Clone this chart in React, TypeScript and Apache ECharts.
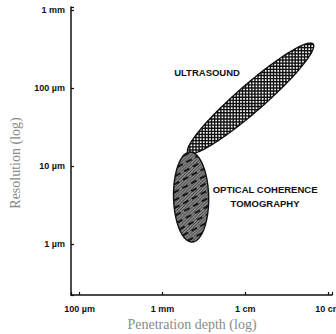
import React, { useEffect, useRef } from "react";
import * as echarts from "echarts";

// Axis ranges and ticks (values in µm)
const penetrationRange = [78.5, 112000];
const penetrationTicks = [100, 1000, 10000, 100000];
const penetrationTickLabels = ["100 µm", "1 mm", "1 cm", "10 cm"];
const resolutionRange = [0.222, 1107];
const resolutionTicks = [1, 10, 100, 1000];
const resolutionTickLabels = ["1 µm", "10 µm", "100 µm", "1 mm"];

// Regions: ellipse tips (penetration µm, resolution µm), half-width in decades
const regionNames = ["ULTRASOUND", "OPTICAL COHERENCE\nTOMOGRAPHY"];
const regionTipLow = [
  [2040, 14.8],
  [2280, 1.064],
];
const regionTipHigh = [
  [66200, 371],
  [2160, 15.2],
];
const regionHalfWidthDecades = [0.163, 0.212];
const regionLabelAt = [
  [3460, 162],
  [17400, 4.14],
];

const axisTitleX = "Penetration depth (log)";
const axisTitleY = "Resolution (log)";

function tickFormatter(ticks: number[], labels: string[]) {
  return (v: number) => {
    for (let i = 0; i < ticks.length; i++) {
      if (Math.abs(Math.log10(v) - Math.log10(ticks[i])) < 1e-6) return labels[i];
    }
    return "";
  };
}

export default function App() {
  const ref = useRef<HTMLDivElement>(null);
  useEffect(() => {
    if (!ref.current) return;
    const chart = echarts.init(ref.current, undefined, { renderer: "svg" });
    const data = regionNames.map((_, i) => [
      regionTipLow[i][0],
      regionTipLow[i][1],
      regionTipHigh[i][0],
      regionTipHigh[i][1],
      regionHalfWidthDecades[i],
      regionLabelAt[i][0],
      regionLabelAt[i][1],
    ]);
    const labelFont = { fontFamily: "Liberation Sans", fontWeight: "bold" as const, fontSize: 9, color: "#111" };

    const renderItem = (params: any, api: any) => {
      const idx = params.dataIndex;
      const p1 = api.coord([api.value(0), api.value(1)]);
      const p2 = api.coord([api.value(2), api.value(3)]);
      const dec = api.coord([1000, 1])[0] - api.coord([100, 1])[0];
      const hw = api.value(4) * dec;
      const cx = (p1[0] + p2[0]) / 2;
      const cy = (p1[1] + p2[1]) / 2;
      const ax = (p2[0] - p1[0]) / 2;
      const ay = (p2[1] - p1[1]) / 2;
      const L = Math.hypot(ax, ay);
      const bx = (-ay / L) * hw;
      const by = (ax / L) * hw;
      const pts: number[][] = [];
      const N = 140;
      for (let k = 0; k < N; k++) {
        const t = (2 * Math.PI * k) / N;
        pts.push([cx + ax * Math.cos(t) + bx * Math.sin(t), cy + ay * Math.cos(t) + by * Math.sin(t)]);
      }
      const det = ax * by - bx * ay;
      const inv = (px: number, py: number) => [(by * px - bx * py) / det, (-ay * px + ax * py) / det];
      const clipLines = (angleDeg: number, spacing: number, style: any) => {
        const a = (angleDeg * Math.PI) / 180;
        const dx = Math.cos(a);
        const dy = Math.sin(a);
        const nx = -dy;
        const ny = dx;
        const R = Math.max(L, hw) + 2;
        const e = inv(dx, dy);
        const out: any[] = [];
        for (let o = -R; o <= R; o += spacing) {
          const q0 = inv(nx * o, ny * o);
          const A = e[0] * e[0] + e[1] * e[1];
          const B = 2 * (q0[0] * e[0] + q0[1] * e[1]);
          const C = q0[0] * q0[0] + q0[1] * q0[1] - 1;
          const disc = B * B - 4 * A * C;
          if (disc <= 0) continue;
          const sq = Math.sqrt(disc);
          const s1 = (-B - sq) / (2 * A);
          const s2 = (-B + sq) / (2 * A);
          const p0x = cx + nx * o;
          const p0y = cy + ny * o;
          out.push({
            type: "line",
            silent: true,
            shape: { x1: p0x + dx * s1, y1: p0y + dy * s1, x2: p0x + dx * s2, y2: p0y + dy * s2 },
            style,
          });
        }
        return out;
      };
      let children: any[] = [];
      if (idx === 0) {
        children.push({ type: "polygon", shape: { points: pts }, style: { fill: "#ffffff", stroke: null } });
        children = children.concat(clipLines(0, 3.1, { stroke: "#111", lineWidth: 1.4 }));
        children = children.concat(clipLines(90, 3.1, { stroke: "#111", lineWidth: 1.4 }));
      } else {
        children.push({ type: "polygon", shape: { points: pts }, style: { fill: "#858585", stroke: null } });
        children = children.concat(clipLines(-45, 2.2, { stroke: "#2a2a2a", lineWidth: 0.7 }));
        children = children.concat(
          clipLines(-28, 7, { stroke: "#151515", lineWidth: 2, lineDash: [6, 4] })
        );
      }
      children.push({
        type: "polygon",
        shape: { points: pts },
        style: { fill: null, stroke: "#111", lineWidth: 1.4 },
      });
      const lp = api.coord([api.value(5), api.value(6)]);
      children.push({
        type: "text",
        x: lp[0],
        y: lp[1],
        style: {
          text: regionNames[idx],
          font: 'bold 9.5px "Liberation Sans"',
          fill: "#111",
          align: "center",
          verticalAlign: "middle",
          lineHeight: 14,
        },
      });
      return { type: "group", children };
    };

    chart.setOption({
      animation: false,
      backgroundColor: "#ffffff",
      grid: { left: 71, right: 4, top: 7, bottom: 39, containLabel: false, outerBoundsMode: "none" },
      xAxis: {
        type: "log",
        logBase: 10,
        min: penetrationRange[0],
        max: penetrationRange[1],
        axisLine: { lineStyle: { color: "#111", width: 1.5 } },
        axisTick: { inside: true, length: 3, lineStyle: { color: "#111", width: 1.2 } },
        axisLabel: { ...labelFont, margin: 9, formatter: tickFormatter(penetrationTicks, penetrationTickLabels) },
        splitLine: { show: false },
        minorTick: { show: false },
      },
      yAxis: {
        type: "log",
        logBase: 10,
        min: resolutionRange[0],
        max: resolutionRange[1],
        axisLine: { lineStyle: { color: "#111", width: 1.5 } },
        axisTick: { inside: true, length: 3, lineStyle: { color: "#111", width: 1.2 } },
        axisLabel: { ...labelFont, margin: 6, formatter: tickFormatter(resolutionTicks, resolutionTickLabels) },
        splitLine: { show: false },
      },
      graphic: [
        {
          type: "text",
          x: 192,
          y: 324,
          style: {
            text: axisTitleX,
            font: '14px "Liberation Serif"',
            fill: "#8a8a8a",
            align: "center",
            verticalAlign: "middle",
          },
        },
        {
          type: "text",
          x: 15,
          y: 163,
          rotation: Math.PI / 2,
          style: {
            text: axisTitleY,
            font: '14px "Liberation Serif"',
            fill: "#8a8a8a",
            align: "center",
            verticalAlign: "middle",
          },
        },
      ],
      series: [
        {
          type: "custom",
          clip: false,
          encode: { x: [0, 2], y: [1, 3] },
          data,
          renderItem,
        },
      ],
    });
    return () => chart.dispose();
  }, []);
  return (
    <div
      ref={ref}
      style={{ position: "fixed", left: 0, top: 0, width: 336, height: 334, background: "#fff" }}
    />
  );
}
